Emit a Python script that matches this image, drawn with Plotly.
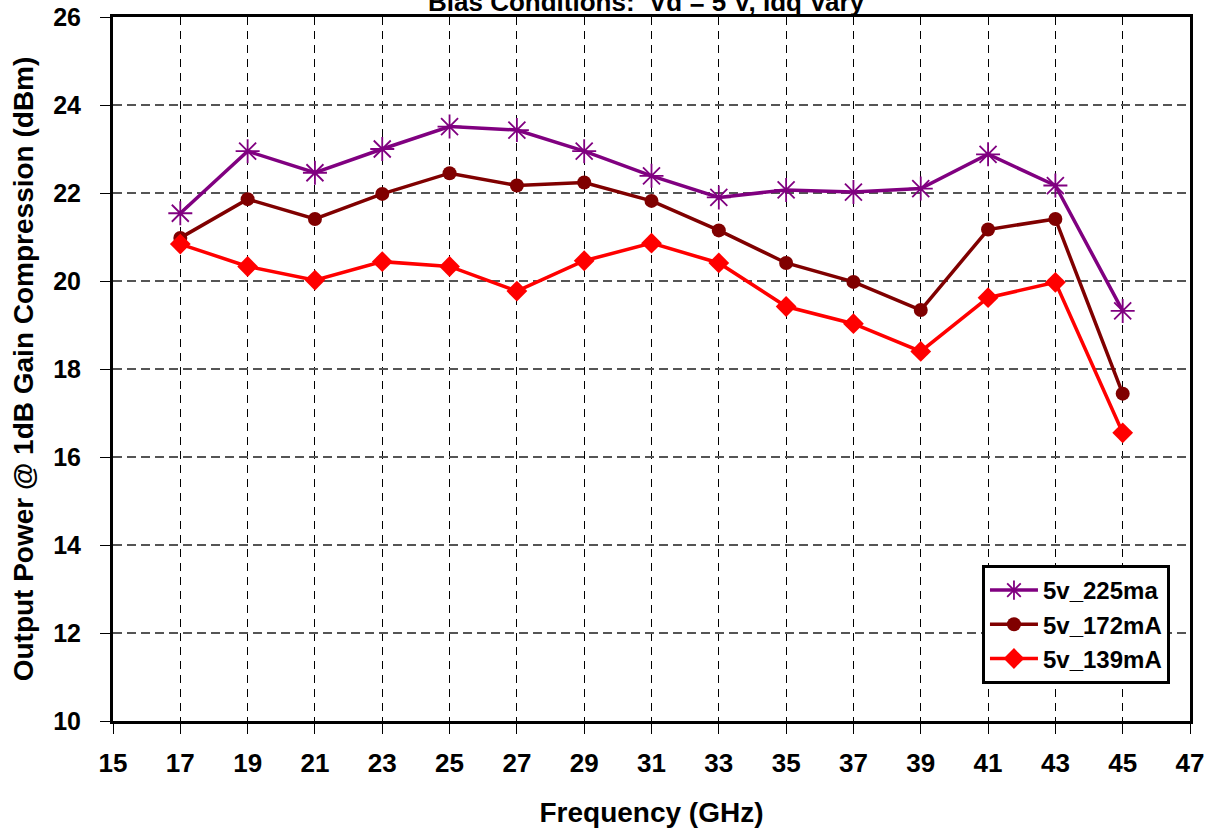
import plotly.graph_objects as go

freq = [17, 19, 21, 23, 25, 27, 29, 31, 33, 35, 37, 39, 41, 43, 45]
p_225ma = [21.54, 22.95, 22.46, 23.00, 23.51, 23.43, 22.95, 22.39, 21.90, 22.07, 22.02, 22.10, 22.88, 22.17, 19.32]
p_172ma = [20.98, 21.86, 21.41, 21.98, 22.45, 22.17, 22.24, 21.82, 21.15, 20.41, 19.98, 19.34, 21.17, 21.41, 17.44]
p_139ma = [20.84, 20.33, 20.02, 20.44, 20.33, 19.77, 20.46, 20.86, 20.41, 19.42, 19.03, 18.40, 19.62, 19.97, 16.55]
x_ticks = list(range(15, 48, 2))
y_ticks = list(range(10, 27, 2))

FONT = "Liberation Sans, Arial, sans-serif"

fig = go.Figure()
fig.add_trace(go.Scatter(
    x=freq, y=p_225ma, name="5v_225ma", mode="lines+markers",
    line=dict(color="#800080", width=3.5),
    marker=dict(symbol="asterisk-open", size=20, line=dict(color="#800080", width=1.8)),
))
fig.add_trace(go.Scatter(
    x=freq, y=p_172ma, name="5v_172mA", mode="lines+markers",
    line=dict(color="#800000", width=3.5),
    marker=dict(symbol="circle", size=14, color="#800000"),
))
fig.add_trace(go.Scatter(
    x=freq, y=p_139ma, name="5v_139mA", mode="lines+markers",
    line=dict(color="#FF0000", width=3.5),
    marker=dict(symbol="diamond", size=16, color="#FF0000"),
))

fig.update_layout(
    width=1217, height=829,
    margin=dict(l=113, r=27, t=17, b=108, autoexpand=False),
    paper_bgcolor="white", plot_bgcolor="white",
    font=dict(family=FONT, color="black"),
    showlegend=True,
    legend=dict(
        x=0.9814, y=0.2216, xanchor="right", yanchor="top",
        bgcolor="white", bordercolor="black", borderwidth=3,
        font=dict(family=FONT, size=24, color="black", weight="bold"),
        tracegroupgap=0, itemwidth=48,
    ),
    annotations=[dict(
        text="<b>Bias Conditions:  Vd = 5 V, Idq Vary</b>",
        xref="paper", yref="paper", x=0.4955, y=1, xanchor="center", yanchor="bottom",
        showarrow=False, font=dict(family=FONT, size=26, color="black"), yshift=-2,
    )],
)

fig.update_xaxes(
    range=[15, 47], tickvals=x_ticks, ticktext=[str(v) for v in x_ticks],
    showline=True, linecolor="black", linewidth=3, mirror=True,
    ticks="outside", ticklen=10, tickcolor="black", tickwidth=1,
    ticklabelstandoff=7,
    showgrid=True, gridcolor="black", gridwidth=1, griddash="8px,6px",
    zeroline=False, automargin=False,
    tickfont=dict(family=FONT, size=26, color="black", weight="bold"),
    title=dict(text="<b>Frequency (GHz)</b>", font=dict(family=FONT, size=28, color="black"), standoff=26),
)
fig.update_yaxes(
    range=[10, 26], tickvals=y_ticks, ticktext=[str(v) for v in y_ticks],
    showline=True, linecolor="black", linewidth=3, mirror=True,
    ticks="outside", ticklen=10, tickcolor="black", tickwidth=1,
    ticklabelstandoff=14,
    showgrid=True, gridcolor="#555555", gridwidth=1.6, griddash="9px,5px",
    zeroline=False, automargin=False,
    tickfont=dict(family=FONT, size=25, color="black", weight="bold"),
    title=dict(text="<b>Output Power @ 1dB Gain Compression (dBm)</b>", font=dict(family=FONT, size=28, color="black"), standoff=12),
)

fig.write_html(
    "out.html",
    config={"displayModeBar": False},
    post_script="document.body.style.margin='0px';document.body.style.overflow='hidden';",
)
